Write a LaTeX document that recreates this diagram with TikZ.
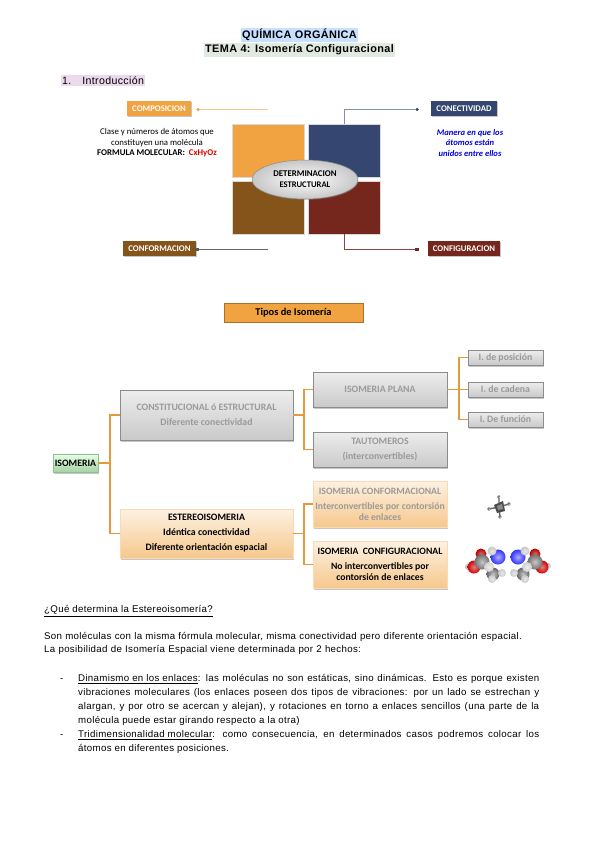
\documentclass[tikz,border=0pt]{standalone}
\usepackage{fontspec}
\setmainfont[LetterSpace=3.3]{Liberation Sans}
\newfontfamily\calibri{Carlito}
\usetikzlibrary{shapes.geometric, shadows, positioning, calc}

\definecolor{cOrange}{HTML}{F0A340}
\definecolor{cBlue}{HTML}{354670}
\definecolor{cBrown}{HTML}{84541A}
\definecolor{cRed}{HTML}{75271E}
\definecolor{cLine}{HTML}{E39A3C}
\definecolor{cGrayText}{HTML}{9C9A98}

\begin{document}
\begin{tikzpicture}[
	x=1pt, y=-1pt,
	% Text styles
	mainTitle/.style={font=\fontsize{10.9}{12}\selectfont\bfseries, inner xsep=1pt, inner ysep=1.5pt},
	bodyText/.style={font=\fontsize{9.7}{13}\selectfont, inner sep=0pt, anchor=west},
	sideText/.style={font=\calibri\fontsize{8.8}{10.6}\selectfont, align=center, inner sep=0pt},
	% Top part
	tag/.style={font=\calibri\bfseries\fontsize{8.7}{9}\selectfont, text=white, minimum height=15pt, inner sep=0pt, drop shadow={shadow xshift=1.2pt, shadow yshift=-1.2pt, opacity=.45}},
	quad/.style={draw=white!85!black, line width=.4pt, minimum width=72pt, minimum height=53pt, inner sep=0pt},
	dot/.style={circle, inner sep=0pt, minimum size=3.5pt},
	% Tree part
	isoBox/.style={draw=#1, line width=.8pt, align=center, inner sep=0pt, font=\calibri\bfseries\fontsize{9.8}{15}\selectfont, drop shadow={shadow xshift=1pt, shadow yshift=-1.6pt, opacity=.45}},
	grayBox/.style={isoBox=black!45, top color=black!7, bottom color=black!21, text=cGrayText},
	orangeBox/.style={isoBox=cOrange!40, top color=cOrange!15, bottom color=cOrange!60},
	treeLine/.style={draw=cLine, line width=1.4pt}
	]
	\useasboundingbox (0,0) rectangle (600,848);
	
	% ==============================================================================
	% HEADINGS
	% ==============================================================================
	\node[mainTitle, fill=blue!55!cyan!22] (titleA) at (299.5,35) {QUÍMICA ORGÁNICA};
	\node[mainTitle, fill=green!30!black!12!white] (titleB) at (299.5,50) {TEMA 4: Isomería Configuracional};
	\node[bodyText, fill=violet!15, inner xsep=1pt, inner ysep=2pt, anchor=west, font=\fontsize{10.6}{12}\selectfont] (intro) at (61,80.5) {1.\hspace{11pt}Introducción};
	
	% ==============================================================================
	% DETERMINACION ESTRUCTURAL
	% ==============================================================================
	\node[quad, fill=cOrange] (qComp) at (268,150.5) {};
	\node[quad, fill=cBlue] (qCone) at (344,150.5) {};
	\node[quad, fill=cBrown] (qConf) at (268,207.5) {};
	\node[quad, fill=cRed] (qConfig) at (344,207.5) {};
	\node[ellipse, draw=black!45, line width=.5pt, inner sep=0pt, minimum width=106pt, minimum height=39pt, inner color=white, outer color=black!22, align=center, font=\calibri\bfseries\fontsize{8.8}{11.5}\selectfont, drop shadow={shadow xshift=.5pt, shadow yshift=-1pt, opacity=.35}] (detEst) at (305,179.5) {DETERMINACION\\[-.5pt]\fontsize{8.6}{10}\selectfont ESTRUCTURAL};
	
	\node[tag, fill=cOrange, minimum width=64pt] (tagComp) at (159,108.5) {COMPOSICION};
	\node[tag, fill=cBlue, minimum width=66pt] (tagCone) at (464,108.5) {CONECTIVIDAD};
	\node[tag, fill=cBrown, minimum width=73pt] (tagConf) at (159.5,248.5) {CONFORMACION};
	\node[tag, fill=cRed, minimum width=72pt] (tagConfig) at (464,248.5) {CONFIGURACION};
	
	\node[dot, fill=cOrange] (dotComp) at (198,109.5) {};
	\node[dot, fill=cBlue] (dotCone) at (417,109.5) {};
	\node[dot, fill=black!65, rectangle] (dotConf) at (197,249.5) {};
	\node[dot, fill=cRed, rectangle] (dotConfig) at (417,249.5) {};
	\coordinate (endComp) at (268,109.5);
	\coordinate (endConf) at (268,249.5);
	
	\draw[cOrange!60, line width=1pt] (dotComp) -- (endComp);
	\draw[cBlue!60, line width=1pt] (dotCone) -| (qCone.north);
	\draw[black!60, line width=1pt] (dotConf) -- (endConf);
	\draw[cRed!85, line width=1pt] (dotConfig) -| (qConfig.south);
	
	\node[sideText] (txtComp) at (157,143) {Clase y números de átomos que\\constituyen una molécula\\\textbf{FORMULA MOLECULAR:\ \ \textcolor{red!85!black}{CxHyOz}}};
	\node[sideText, text=blue!85!black, font=\calibri\bfseries\itshape\fontsize{8.6}{10.6}\selectfont] (txtCone) at (470,143) {Manera en que los\\átomos están\\unidos entre ellos};
	
	% ==============================================================================
	% TIPOS DE ISOMERIA
	% ==============================================================================
	\node[draw=cOrange!70!black, line width=.8pt, fill=cOrange, minimum width=139pt, minimum height=19pt, inner sep=0pt, font=\calibri\bfseries\fontsize{10.4}{12}\selectfont, drop shadow={shadow xshift=.6pt, shadow yshift=-1pt, opacity=.35}] (tipos) at (293.5,312.5) {Tipos de Isomería};
	
	\node[isoBox=green!45!black!45, top color=green!10!white, bottom color=green!50!black!35!white, minimum width=45pt, minimum height=18pt] (isomeria) at (75.5,463) {ISOMERIA};
	
	\node[grayBox, minimum width=173pt, minimum height=50pt] (constit) at (206.5,415) {CONSTITUCIONAL ó ESTRUCTURAL\\Diferente conectividad};
	\node[orangeBox, minimum width=173pt, minimum height=49pt] (estereo) at (206.5,533.5) {ESTEREOISOMERIA\\Idéntica conectividad\\Diferente orientación espacial};
	
	\node[grayBox, minimum width=134pt, minimum height=35pt] (plana) at (380,389.5) {ISOMERIA PLANA};
	\node[grayBox, minimum width=134pt, minimum height=35pt] (tauto) at (380,449.5) {TAUTOMEROS\\(interconvertibles)};
	\node[orangeBox, minimum width=134pt, minimum height=46pt, text=cGrayText, font=\calibri\bfseries\fontsize{9.7}{11}\selectfont] (conforma) at (380,504) {ISOMERIA CONFORMACIONAL\\[4pt]Interconvertibles por contorsión\\de enlaces};
	\node[orangeBox, minimum width=134pt, minimum height=47pt, font=\calibri\bfseries\fontsize{9.7}{11}\selectfont] (configura) at (380,564.5) {ISOMERIA\ \ CONFIGURACIONAL\\[4pt]No interconvertibles por\\contorsión de enlaces};
	
	\node[grayBox, minimum width=75pt, minimum height=15pt] (posicion) at (505.5,357.5) {I. de posición};
	\node[grayBox, minimum width=75pt, minimum height=15pt] (cadena) at (505.5,389.5) {I. de cadena};
	\node[grayBox, minimum width=75pt, minimum height=15pt] (funcion) at (505.5,419.5) {I. De función};
	
	\draw[treeLine] (isomeria.east) -- ++(11.5,0) coordinate (jIso);
	\draw[treeLine] (jIso) |- (constit.west);
	\draw[treeLine] (jIso) |- (estereo.west);
	\draw[treeLine] (constit.east) -- ++(10.5,0) coordinate (jConst);
	\draw[treeLine] (jConst) |- (plana.west);
	\draw[treeLine] (jConst) |- (tauto.west);
	\draw[treeLine] (estereo.east) -- ++(10.5,0) coordinate (jEst);
	\draw[treeLine] (jEst) |- (conforma.west);
	\draw[treeLine] (jEst) |- (configura.west);
	\draw[treeLine] (plana.east) -- ++(11.5,0) coordinate (jPlana);
	\draw[treeLine] (jPlana) |- (posicion.west);
	\draw[treeLine] (jPlana) -- (cadena.west);
	\draw[treeLine] (jPlana) |- (funcion.west);
	
	% molecules
	\draw[black!60, line width=1.4pt] (499,497) -- (499,507) (500,517) -- (499,507) (489,509) -- (499,507) (509,504) -- (499,507);
	\fill[black!70] (494,505) -- (503,501) -- (505,511) -- (497,513) -- cycle;
	\fill[black!45] (497,506) -- (502,504) -- (503,509) -- (498,510) -- cycle;
	\foreach \x/\y/\r/\c in {
		499/497/1.8/black!65, 509/504/1.8/black!65, 489/509/1.8/black!65, 500/517/1.8/black!65,
		% left one
		468/567/3/black!25, 481/554/5.5/red!75!black, 474/567/6.5/red!85!black, 493/574/6.5/black!60, 482/562/7.5/black!55, 498/557/7.5/blue!80, 492/551/4.5/black!22, 502/573/4/black!22, 492/579/4/black!22, 489/567/5/black!18,
		% right one
		548/566/3/black!25, 535/554/5.5/red!75!black, 542/567/6.5/red!85!black, 523/574/6.5/black!60, 535/562/7.5/black!55, 518/557/7.5/blue!80, 525/551/4.5/black!22, 514/573/4/black!22, 525/579/4/black!22, 527/567/5/black!18}{
		\shade[inner color=white!60!\c, outer color=\c] (\x,\y) circle[radius=\r pt];
	}
	
	% ==============================================================================
	% TEXT OF THE PAGE
	% ==============================================================================
	\node[bodyText] (question) at (44,611) {\underline{¿Qué determina la Estereoisomería?}};
	\node[bodyText, text width=490pt, anchor=north west] (parA) at (44,632) {Son moléculas con la misma fórmula molecular, misma conectividad pero diferente orientación espacial.\\La posibilidad de Isomería Espacial viene determinada por 2 hechos:};
	
	\node[bodyText] (dashA) at (60,680) {-};
	\node[bodyText] (dashB) at (60,736) {-};
	\node[bodyText, text width=461pt, align=justify, anchor=north west, font=\fontsize{9.7}{14.2}\selectfont] (itemA) at (78,674) {\underline{Dinamismo en los enlaces}: las moléculas no son estáticas, sino dinámicas. Esto es porque existen\linebreak vibraciones moleculares (los enlaces poseen dos tipos de vibraciones: por un lado se estrechan y\linebreak alargan, y por otro se acercan y alejan), y rotaciones en torno a enlaces sencillos (una parte de la\linebreak molécula puede estar girando respecto a la otra)};
	\node[bodyText, text width=461pt, align=justify, anchor=north west, font=\fontsize{9.7}{14}\selectfont] (itemB) at (78,730) {\underline{Tridimensionalidad molecular}: como consecuencia, en determinados casos podremos colocar los\linebreak átomos en diferentes posiciones.};
	
\end{tikzpicture}
\end{document}
